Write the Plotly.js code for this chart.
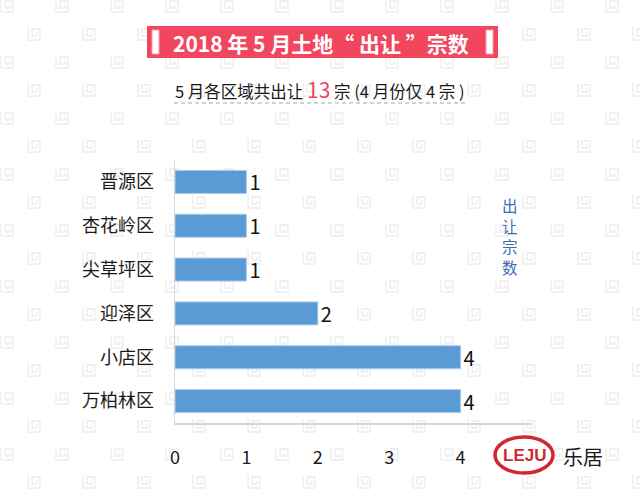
<!DOCTYPE html>
<html><head><meta charset="utf-8">
<script src="https://cdn.plot.ly/plotly-3.0.1.min.js"></script>
<style>html,body{margin:0;padding:0;background:#fff}#chart{width:640px;height:500px}</style>
</head><body><div id="chart"></div>
<script>
// Data
const categories = ["万柏林区", "小店区", "迎泽区", "尖草坪区", "杏花岭区", "晋源区"];
const counts = [4, 4, 2, 1, 1, 1];
const xTickVals = [0, 1, 2, 3, 4];
const titleText = "2018 年 5 月土地“ 出让 ”宗数";
const legendLabel = "出让宗数";

// Layout geometry (pixels)
const W = 640, H = 500;
const L = 175, R = 108, T = 160, B = 77;
const pw = W - L - R, ph = H - T - B;
const px = x => (x - L) / pw;
const py = y => (H - B - y) / ph;

const FONT = '"Noto Sans CJK SC", "Noto Sans", sans-serif';

// background pattern as SVG data URI
const icon = (ox, oy) => `<path d="M${ox+2},${oy+1} L${ox+2},${oy+14} L${ox+14},${oy+14} L${ox+14},${oy+3} L${ox+6},${oy+3} L${ox+6},${oy+10} L${ox+11},${oy+10} L${ox+11},${oy+6.5}" fill="none" stroke="#ececec" stroke-width="1.3"/>`;
const svg = `<svg xmlns="http://www.w3.org/2000/svg" width="${W}" height="${H}"><defs><pattern id="p" x="-1" y="-2" width="55" height="56" patternUnits="userSpaceOnUse">${icon(0,0)}${icon(27,28)}</pattern></defs><rect width="${W}" height="${H}" fill="url(#p)"/></svg>`;
const bgSrc = "data:image/svg+xml;charset=utf-8," + encodeURIComponent(svg);

const trace = {
  type: "bar",
  orientation: "h",
  y: categories,
  x: counts,
  marker: {color: "#5b9bd5", line: {color: "#a9cbea", width: 1}},
  text: counts.map(String),
  textposition: "outside",
  constraintext: "none",
  textfont: {family: FONT, size: 20, color: "#111"},
  cliponaxis: false,
  hoverinfo: "none"
};

const shapes = [
  // title box
  {type: "rect", xref: "paper", yref: "paper", x0: px(147), x1: px(498), y0: py(58), y1: py(26),
   fillcolor: "#f2465f", line: {width: 0}, layer: "above"},
  {type: "rect", xref: "paper", yref: "paper", x0: px(152), x1: px(159), y0: py(54), y1: py(30),
   fillcolor: "#ffffff", line: {color: "#f7a0ad", width: 1}, layer: "above"},
  {type: "rect", xref: "paper", yref: "paper", x0: px(486), x1: px(493), y0: py(54), y1: py(30),
   fillcolor: "#ffffff", line: {color: "#f7a0ad", width: 1}, layer: "above"},
  // dashed underline
  {type: "line", xref: "paper", yref: "paper", x0: px(174), x1: px(466), y0: py(103), y1: py(103),
   line: {color: "#a6a6a6", width: 1.2, dash: "4px,3px"}, layer: "above"},
  // logo ellipse
  {type: "circle", xref: "paper", yref: "paper", x0: px(495), x1: px(553), y0: py(473), y1: py(437),
   fillcolor: "#ffffff", line: {color: "#d22630", width: 3.5}, layer: "above"}
];

const annotations = [
  {xref: "paper", yref: "paper", x: px(320.5), y: py(42.5), xanchor: "center", yanchor: "middle",
   text: "<b>" + titleText + "</b>", showarrow: false,
   font: {family: FONT, size: 21, color: "#ffffff"}},
  {xref: "paper", yref: "paper", x: px(320), y: py(89), xanchor: "center", yanchor: "middle",
   text: "5 月各区域共出让 <span style='font-size:21px;color:#f2465f'>13</span> 宗 (4 月份仅 4 宗 )",
   showarrow: false, font: {family: FONT, size: 16.5, color: "#1a1a1a"}},
  {xref: "paper", yref: "paper", x: px(524), y: py(455), xanchor: "center", yanchor: "middle",
   text: "<b>LEJU</b>", showarrow: false,
   font: {family: "Liberation Sans, sans-serif", size: 17, color: "#d22630"}},
  {xref: "paper", yref: "paper", x: px(583), y: py(456), xanchor: "center", yanchor: "middle",
   text: "乐居", showarrow: false,
   font: {family: FONT, size: 20, color: "#1a1a1a"}}
];
// vertical label, one character per annotation
legendLabel.split("").forEach((ch, i) => {
  annotations.push({xref: "paper", yref: "paper", x: px(510), y: py(205 + i * 20.5),
    xanchor: "center", yanchor: "middle", text: ch, showarrow: false,
    font: {family: FONT, size: 15.5, color: "#3d6cb0"}});
});

const layout = {
  width: W, height: H,
  margin: {l: L, r: R, t: T, b: B, pad: 0},
  paper_bgcolor: "rgba(0,0,0,0)",
  plot_bgcolor: "rgba(0,0,0,0)",
  showlegend: false,
  bargap: 0.475,
  font: {family: FONT, color: "#1a1a1a"},
  xaxis: {
    range: [0, 5], tickvals: xTickVals, ticktext: xTickVals.map(String),
    showgrid: false, zeroline: false, showline: true, linecolor: "#d6d6d6", linewidth: 1.5,
    ticks: "", ticklabelstandoff: 18,
    tickfont: {family: FONT, size: 18, color: "#1a1a1a"}, fixedrange: true
  },
  yaxis: {
    type: "category", range: [-0.5, 5.5],
    showgrid: false, zeroline: false, showline: true, linecolor: "#d6d6d6", linewidth: 1.5,
    ticks: "", ticklabelstandoff: 16,
    tickfont: {family: FONT, size: 18, color: "#1a1a1a"}, fixedrange: true
  },
  images: [{source: bgSrc, xref: "paper", yref: "paper", x: px(0), y: py(0),
            sizex: W / pw, sizey: H / ph, xanchor: "left", yanchor: "top",
            sizing: "stretch", layer: "below"}],
  shapes: shapes,
  annotations: annotations
};

Plotly.newPlot("chart", [trace], layout, {displayModeBar: false, staticPlot: true});
</script>
</body></html>
